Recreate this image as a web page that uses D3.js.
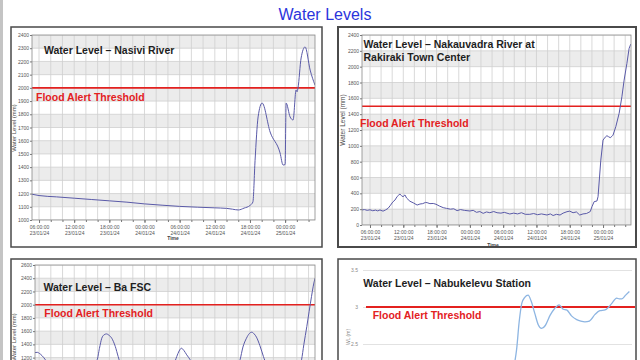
<!DOCTYPE html>
<html><head><meta charset="utf-8">
<script src="https://cdn.jsdelivr.net/npm/d3@7"></script>
<style>
body{margin:0;background:#fff}
svg{display:block}
text{font-family:"Liberation Sans",Arial,sans-serif}
</style>
</head><body>
<svg id="chart" width="640" height="360"></svg>
<script>
// ---------- DATA ----------
const chartTitle = "Water Levels";
const thresholdLabel = "Flood Alert Threshold";
const xLabelHours = [6, 12, 18, 24, 30, 36, 42, 48];   // hours after 00:00 23/01/24

// Nasivi River (mm)
const nasiviTitle = ["Water Level \u2013 Nasivi River"];
const nasiviThreshold = 2000;
const nasiviHours  = [4.8, 6, 9, 12, 15, 18, 21, 24, 27, 30, 33, 36, 38, 39, 40, 41, 42, 42.5, 42.87, 43.39, 44.07, 45.44, 47.14, 47.65, 48.0, 48.17, 48.85, 49.36, 49.87, 50.04, 50.2, 50.73, 51.41, 52.27, 53.1];
const nasiviLevels = [1195, 1185, 1175, 1165, 1155, 1145, 1135, 1122, 1112, 1103, 1097, 1092, 1088, 1082, 1076, 1090, 1110, 1136, 1450, 1780, 1885, 1666, 1507, 1416, 1420, 1885, 1780, 1757, 1984, 1970, 2000, 2226, 2310, 2135, 2020];

// Nakauvadra River at Rakiraki Town Center (mm)
const nakauTitle = ["Water Level \u2013 Nakauvadra River at", "Rakiraki Town Center"];
const nakauThreshold = 1500;
const nakauHours  = [4.56, 5.0, 5.5, 6.0, 6.5, 7.0, 7.4, 7.8, 8.35, 8.8, 9.25, 9.7, 10.1, 10.5, 10.9, 11.2, 11.4, 11.7, 11.95, 12.3, 12.6, 13.2, 13.8, 14.5, 15.0, 15.5, 16.0, 16.3, 16.8, 17.4, 17.9, 18.5, 19.2, 19.8, 20.5, 21.1, 21.7, 22.3, 23.0, 24.0, 24.6, 25.2, 25.8, 26.4, 27.0, 27.6, 28.3, 28.9, 29.6, 30.2, 31.2, 31.9, 32.6, 33.3, 34.0, 34.8, 35.5, 36.2, 36.9, 37.9, 38.5, 39.0, 39.6, 40.25, 40.8, 41.5, 42.0, 42.6, 43.2, 43.8, 44.4, 45.0, 45.3, 45.7, 46.0, 46.4, 46.9, 47.1, 47.6, 48.0, 48.4, 48.7, 49.0, 49.3, 49.6, 49.8, 50.3, 50.9, 51.4, 51.8, 52.3, 52.7, 53.0];
const nakauLevels = [190, 195, 185, 192, 180, 188, 178, 190, 175, 190, 210, 250, 290, 315, 360, 380, 390, 370, 357, 380, 340, 300, 280, 252, 265, 270, 285, 282, 270, 272, 262, 240, 219, 210, 200, 205, 181, 195, 185, 177, 185, 160, 170, 147, 165, 155, 170, 155, 150, 160, 139, 150, 140, 155, 135, 135, 145, 130, 140, 126, 140, 120, 135, 126, 150, 168, 175, 155, 165, 126, 140, 145, 155, 170, 231, 295, 303, 358, 820, 1073, 1110, 1128, 1115, 1103, 1120, 1135, 1242, 1410, 1620, 1830, 2041, 2231, 2285];

// Ba FSC (mm)
const baTitle = ["Water Level \u2013 Ba FSC"];
const baThreshold = 2000;
const baHours  = [5.3, 5.7, 6.03, 6.5, 7.0, 7.6, 11, 15.9, 16.3, 16.7, 17.1, 17.5, 17.9, 18.4, 19.0, 19.5, 20.0, 24.5, 29.0, 29.5, 29.9, 30.3, 30.7, 31.2, 31.8, 32.3, 36, 39.8, 40.3, 40.8, 41.4, 41.9, 42.3, 42.7, 43.1, 43.7, 44.3, 44.8, 47.5, 50.3, 50.8, 51.2, 51.7, 52.1, 52.5, 52.8, 53.1];
const baLevels = [1276, 1280, 1265, 1230, 1176, 1100, 800, 1166, 1340, 1493, 1545, 1558, 1540, 1493, 1370, 1216, 1080, 760, 1100, 1216, 1300, 1342, 1310, 1242, 1166, 1080, 800, 1050, 1166, 1360, 1493, 1565, 1584, 1560, 1510, 1380, 1216, 1100, 850, 1050, 1166, 1400, 1669, 1900, 2122, 2280, 2399];

// Nabukelevu Station (m)
const nabuTitle = ["Water Level \u2013 Nabukelevu Station"];
const nabuThreshold = 3.0;
const nabuHours  = [0, 20, 36, 39.9, 40.7, 41.1, 41.8, 42.5, 43.3, 44.2, 45, 46, 46.9, 47.8, 48.8, 50.1, 51.3, 52.5, 53.6, 54.5, 55.8, 57.2, 58.3, 59.4, 60.6, 62.1, 63.4, 64.8, 65.8, 66.6, 67.9, 68.6, 69.3, 70.3, 71.3];
const nabuLevels = [1.9, 1.95, 2.0, 2.1, 2.28, 2.42, 2.8, 3.05, 3.13, 3.16, 3.08, 2.91, 2.76, 2.71, 2.75, 2.89, 2.98, 3.03, 2.97, 2.96, 2.88, 2.83, 2.81, 2.80, 2.81, 2.90, 2.95, 2.96, 3.0, 3.05, 3.12, 3.11, 3.11, 3.16, 3.21];
const nabuTicks = [2.5, 3, 3.5];

// ---------- DRAWING ----------
const svg = d3.select("#chart");
const base = new Date(2024, 0, 23, 0, 0, 0);
const toDate = h => new Date(base.getTime() + h * 3600e3);
const fmtTime = d3.timeFormat("%H:%M:%S");
const fmtDay = d3.timeFormat("%d/%m/%y");
const RED = "#e3211f";

svg.append("rect").attr("x", 0).attr("y", 0).attr("width", 3).attr("height", 360).attr("fill", "#c4c4c4");

svg.append("text").attr("x", 325).attr("y", 20).attr("text-anchor", "middle")
  .attr("font-size", 16).attr("fill", "#2b35dc").text(chartTitle);

let clipId = 0;

function flexiPanel(cfg) {
  const g = svg.append("g");
  const [bx, by, bw, bh] = cfg.box;
  const [L, T, R, B] = cfg.plot;
  g.append("rect").attr("x", bx).attr("y", by).attr("width", bw).attr("height", bh)
    .attr("fill", "#fff").attr("stroke", "#4a4a4a").attr("stroke-width", cfg.boxStroke || 1.5);

  const x = d3.scaleTime().domain([toDate(cfg.hDomain[0]), toDate(cfg.hDomain[1])]).range([L, R]);
  const y = d3.scaleLinear().domain(cfg.yDomain).range([B, T]);

  const id = "clip" + (clipId++);
  g.append("clipPath").attr("id", id).append("rect").attr("x", L).attr("y", T).attr("width", R - L).attr("height", B - T);
  const pg = g.append("g").attr("clip-path", `url(#${id})`);

  // bands
  const bands = d3.range(cfg.yDomain[0], cfg.yDomain[1], cfg.step).filter(v => Math.round(v / cfg.step) % 2 === cfg.bandParity);
  pg.selectAll("rect.band").data(bands).join("rect")
    .attr("x", L).attr("width", R - L)
    .attr("y", d => y(d + cfg.step)).attr("height", d => y(d) - y(d + cfg.step))
    .attr("fill", "#ececec");
  // grid
  const hTicks = d3.range(cfg.yDomain[0], cfg.yDomain[1] + 1e-9, cfg.step);
  pg.selectAll("line.hg").data(hTicks).join("line")
    .attr("x1", L).attr("x2", R).attr("y1", d => y(d)).attr("y2", d => y(d))
    .attr("stroke", "#cfcfcf").attr("stroke-width", 0.8);
  const vHours = d3.range(Math.ceil(cfg.hDomain[0] / 2) * 2, cfg.hDomain[1], 2);
  pg.selectAll("line.vg").data(vHours).join("line")
    .attr("x1", d => x(toDate(d))).attr("x2", d => x(toDate(d))).attr("y1", T).attr("y2", B)
    .attr("stroke", "#cfcfcf").attr("stroke-width", 0.8);

  // threshold
  pg.append("line").attr("x1", L).attr("x2", R)
    .attr("y1", y(cfg.threshold)).attr("y2", y(cfg.threshold))
    .attr("stroke", RED).attr("stroke-width", 1.6);

  // series
  const pts = cfg.hours.map((h, i) => [toDate(h), cfg.levels[i]]);
  pg.append("path").datum(pts)
    .attr("d", d3.line().x(d => x(d[0])).y(d => y(d[1])).curve(cfg.curve))
    .attr("fill", "none").attr("stroke", "#5a5aa8").attr("stroke-width", 1);

  // plot border
  g.append("rect").attr("x", L).attr("y", T).attr("width", R - L).attr("height", B - T)
    .attr("fill", "none").attr("stroke", "#8a8a8a").attr("stroke-width", 0.8);

  // y axis
  const ya = g.append("g").attr("transform", `translate(${L},0)`)
    .call(d3.axisLeft(y).tickValues(hTicks).tickSize(2).tickPadding(1).tickFormat(d3.format("d")));
  ya.select(".domain").remove();
  ya.selectAll("line").attr("stroke", "#777");
  ya.selectAll("text").attr("font-size", 5).attr("fill", "#555").attr("font-family", "Liberation Sans, Arial, sans-serif");

  // x axis minor ticks
  const xm = g.append("g").attr("transform", `translate(0,${B})`)
    .call(d3.axisBottom(x).tickValues(vHours.map(toDate)).tickSize(2).tickFormat(""));
  xm.select(".domain").remove();
  xm.selectAll("line").attr("stroke", "#777");
  // x axis labels
  const xa = g.append("g").attr("transform", `translate(0,${B})`)
    .call(d3.axisBottom(x).tickValues(xLabelHours.map(toDate)).tickSize(3).tickPadding(1));
  xa.select(".domain").remove();
  xa.selectAll("line").attr("stroke", "#777");
  xa.selectAll(".tick text").each(function (d) {
    const t = d3.select(this);
    t.text(null).attr("font-size", 5).attr("fill", "#555").attr("font-family", "Liberation Sans, Arial, sans-serif");
    t.append("tspan").attr("x", 0).attr("dy", "0.9em").text(fmtTime(d));
    t.append("tspan").attr("x", 0).attr("dy", "1.25em").text(fmtDay(d));
  });

  // axis titles
  g.append("text").attr("transform", `translate(${cfg.yLabel[0]},${cfg.yLabel[1]}) rotate(-90)`)
    .attr("text-anchor", "middle").attr("font-size", cfg.yLabelSize || 6).attr("fill", "#444")
    .text("Water Level (mm)");
  g.append("text").attr("x", cfg.xLabel[0]).attr("y", cfg.xLabel[1]).attr("text-anchor", "middle")
    .attr("font-size", 5).attr("font-weight", "bold").attr("fill", "#444").text("Time");

  // panel title + threshold label
  cfg.title.forEach((s, i) => g.append("text").attr("x", cfg.titlePos[0]).attr("y", cfg.titlePos[1] + i * 12.5)
    .attr("font-size", 10.5).attr("font-weight", "bold").attr("fill", "#1e1e1e").text(s));
  g.append("text").attr("x", cfg.threshPos[0]).attr("y", cfg.threshPos[1])
    .attr("font-size", 10.5).attr("font-weight", "bold").attr("fill", RED).text(thresholdLabel);
}

flexiPanel({
  box: [11, 27, 311, 220], plot: [32, 35, 315, 220],
  hDomain: [4.8, 53.1], yDomain: [1000, 2400], step: 100, bandParity: 1,
  hours: nasiviHours, levels: nasiviLevels, threshold: nasiviThreshold, curve: d3.curveMonotoneX,
  yLabel: [16, 128], xLabel: [173, 240],
  title: nasiviTitle, titlePos: [44, 54], threshPos: [36, 100.5]
});

flexiPanel({
  box: [338, 27, 298, 220], plot: [362, 35, 631, 225], boxStroke: 2,
  hDomain: [4.56, 53.04], yDomain: [0, 2400], step: 200, bandParity: 0,
  hours: nakauHours, levels: nakauLevels, threshold: nakauThreshold, curve: d3.curveLinear,
  yLabel: [345, 120], yLabelSize: 6.5, xLabel: [493, 247],
  title: nakauTitle, titlePos: [363.5, 48.3], threshPos: [360, 126.5]
});

flexiPanel({
  box: [11, 259, 311, 200], plot: [35, 265, 315, 437],
  hDomain: [5.3, 53.1], yDomain: [0, 2600], step: 200, bandParity: 1,
  hours: baHours, levels: baLevels, threshold: baThreshold, curve: d3.curveMonotoneX,
  yLabel: [16, 337], xLabel: [173, 470],
  title: baTitle, titlePos: [43.5, 291], threshPos: [44.3, 316.5]
});

// Nabukelevu (spreadsheet style)
(function () {
  const g = svg.append("g");
  const L = 363, R = 632, T = 270, B = 529;
  g.append("rect").attr("x", 338).attr("y", 259).attr("width", 298).attr("height", 200)
    .attr("fill", "#fff").attr("stroke", "#4a4a4a").attr("stroke-width", 1.5);
  const x = d3.scaleLinear().domain([0, 72]).range([L, R]);
  const y = d3.scaleLinear().domain([0, 3.5]).range([B, T]);
  const ya = g.append("g").attr("transform", `translate(${L},0)`)
    .call(d3.axisLeft(y).tickValues(nabuTicks).tickSize(-(R - L)).tickPadding(5).tickFormat(d3.format("")));
  ya.select(".domain").remove();
  ya.selectAll("line").attr("stroke", "#dadada").attr("stroke-width", 0.8);
  ya.selectAll("text").attr("font-size", 5).attr("fill", "#888").attr("font-family", "Liberation Sans, Arial, sans-serif");
  g.append("text").attr("transform", `translate(350,337) rotate(-90)`).attr("text-anchor", "middle")
    .attr("font-size", 5).attr("fill", "#888").text("WL (m)");
  g.append("line").attr("x1", 366).attr("x2", 635).attr("y1", y(nabuThreshold)).attr("y2", y(nabuThreshold))
    .attr("stroke", RED).attr("stroke-width", 2);
  const pts = nabuHours.map((h, i) => [h, nabuLevels[i]]);
  g.append("path").datum(pts)
    .attr("d", d3.line().x(d => x(d[0])).y(d => y(d[1])).curve(d3.curveMonotoneX))
    .attr("fill", "none").attr("stroke", "#8db5e2").attr("stroke-width", 1.3);
  g.append("text").attr("x", 363.3).attr("y", 287.3).attr("font-size", 10.5).attr("font-weight", "bold")
    .attr("fill", "#1e1e1e").text(nabuTitle[0]);
  g.append("text").attr("x", 372.7).attr("y", 319.3).attr("font-size", 10.5).attr("font-weight", "bold")
    .attr("fill", RED).text(thresholdLabel);
})();
</script>
</body></html>
